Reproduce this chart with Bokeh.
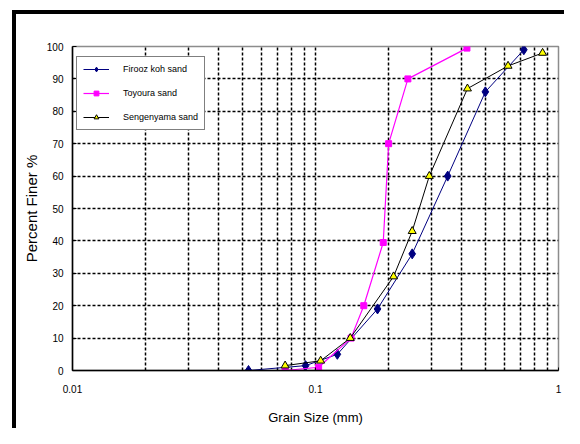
from bokeh.plotting import figure
from bokeh.models import FixedTicker, Legend, LegendItem
from bokeh.embed import file_html
from bokeh.resources import INLINE

# Data
series_names = ["Firooz koh sand", "Toyoura sand", "Sengenyama sand"]

firooz_size = [0.053, 0.091, 0.123, 0.18, 0.25, 0.35, 0.50, 0.72]
firooz_finer = [0, 1.5, 5, 19, 36, 60, 86, 99]

toyoura_size = [0.075, 0.103, 0.14, 0.158, 0.19, 0.20, 0.24, 0.42]
toyoura_finer = [0, 1, 10, 20, 39.5, 70, 90, 99.5]

sengen_size = [0.075, 0.105, 0.139, 0.2095, 0.25, 0.294, 0.422, 0.62, 0.86]
sengen_finer = [1.5, 3, 10, 29, 43, 60, 87, 94, 98]

x_tick_values = [0.01, 0.1, 1]
x_tick_labels = ["0.01", "0.1", "1"]
y_tick_values = [0, 10, 20, 30, 40, 50, 60, 70, 80, 90, 100]
grid_x = [m * 10.0 ** e for e in (-2, -1) for m in range(1, 10)] + [1.0]

FONT = "Liberation Sans"

p = figure(
    x_axis_type="log",
    x_range=(0.01, 1),
    y_range=(0, 100),
    frame_width=486,
    frame_height=324,
    min_border_left=72,
    min_border_right=6,
    min_border_top=46,
    min_border_bottom=58,
    output_backend="svg",
    toolbar_location=None,
)
p.border_fill_alpha = 0
p.background_fill_color = "white"
p.outline_line_color = "#8c8c8c"
p.outline_line_width = 1.5
p.styles = {"box-shadow": "inset 12px 10px 0 0 #ffffff, inset 16px 14px 0 0 #000000"}

# Grid
p.xgrid.ticker = FixedTicker(ticks=grid_x)
p.ygrid.ticker = FixedTicker(ticks=y_tick_values)
for g in (p.xgrid, p.ygrid):
    g.grid_line_color = "black"
    g.grid_line_dash = "3 2"
    g.grid_line_width = 1.5
    g.grid_line_alpha = 1.0

# Axes
xa = p.xaxis[0]
xa.ticker = FixedTicker(ticks=x_tick_values)
xa.major_label_overrides = {v: s for v, s in zip(x_tick_values, x_tick_labels)}
xa.major_tick_in = 3
xa.major_tick_out = 0
xa.minor_tick_line_color = None
xa.major_label_standoff = 14
xa.axis_label = "Grain Size (mm)"
xa.axis_label_standoff = 14

ya = p.yaxis[0]
ya.ticker = FixedTicker(ticks=y_tick_values)
ya.major_tick_in = 4
ya.major_tick_out = 0
ya.minor_tick_line_color = None
ya.major_label_standoff = 9
ya.axis_label = "Percent Finer %"
ya.axis_label_standoff = 4

for ax in (xa, ya):
    ax.axis_line_color = "black"
    ax.axis_line_width = 1.5
    ax.major_tick_line_color = "black"
    ax.major_label_text_font = FONT
    ax.major_label_text_font_size = "10px"
    ax.major_label_text_color = "black"
    ax.axis_label_text_font = FONT
    ax.axis_label_text_font_style = "normal"
    ax.axis_label_text_color = "black"
xa.axis_label_text_font_size = "13px"
ya.axis_label_text_font_size = "15px"

# Series
l1 = p.line(firooz_size, firooz_finer, line_color="#000080", line_width=1)
m1 = p.scatter(firooz_size, firooz_finer, marker="diamond", size=10,
               fill_color="#000080", line_color="#000080")
l2 = p.line(toyoura_size, toyoura_finer, line_color="#ff00ff", line_width=1.2)
m2 = p.scatter(toyoura_size, toyoura_finer, marker="square", size=6,
               fill_color="#ff00ff", line_color="#ff00ff")
l3 = p.line(sengen_size, sengen_finer, line_color="black", line_width=1)
m3 = p.scatter(sengen_size, sengen_finer, marker="triangle", size=8,
               fill_color="#ffff00", line_color="black", line_width=1)

legend = Legend(
    items=[
        LegendItem(label=series_names[0], renderers=[l1, m1]),
        LegendItem(label=series_names[1], renderers=[l2, m2]),
        LegendItem(label=series_names[2], renderers=[l3, m3]),
    ],
    location=(4, 240),
    orientation="vertical",
    padding=6,
    spacing=12,
    glyph_width=26,
    glyph_height=12,
    label_height=12,
    label_standoff=14,
    margin=0,
    label_text_font=FONT,
    label_text_font_size="9px",
    label_text_color="black",
    border_line_color="black",
    border_line_width=1.5,
    background_fill_color="white",
    background_fill_alpha=1.0,
)
p.add_layout(legend)

open("out.html", "w").write(file_html(p, INLINE))
